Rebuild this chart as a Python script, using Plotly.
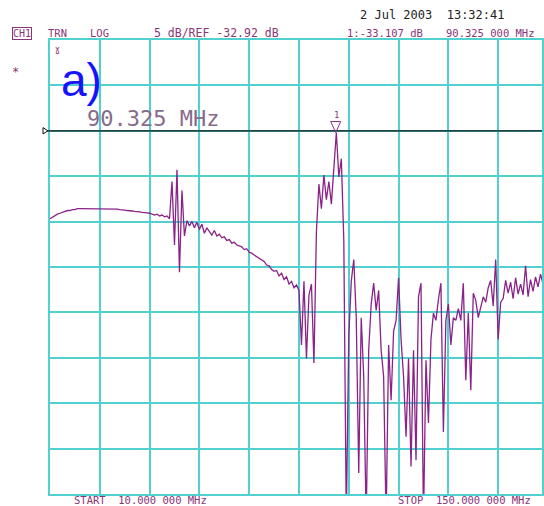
import numpy as np
import plotly.graph_objects as go

# Sweep: 10 MHz .. 150 MHz, 201 points
f_start, f_stop = 10.0, 150.0
freq_mhz = np.linspace(f_start, f_stop, 201)

# Transmission magnitude in dB
mag_db = [
    -42.6, -42.4, -42.3, -42.1, -42.0, -41.9, -41.8, -41.7, -41.7, -41.6,
    -41.6, -41.5, -41.5, -41.5, -41.5, -41.5, -41.5, -41.5, -41.5, -41.5,
    -41.5, -41.5, -41.5, -41.5, -41.5, -41.55, -41.55, -41.55, -41.6, -41.6,
    -41.65, -41.7, -41.7, -41.75, -41.8, -41.8, -41.85, -41.9, -41.9, -41.95,
    -42.0, -42.1, -42.2, -42.1, -42.3, -42.2, -42.4, -42.3, -42.6, -38.5,
    -45.5, -37.2, -48.5, -39.5, -44.5, -42.8, -43.4, -42.9, -43.6, -43.0,
    -43.8, -43.2, -44.2, -43.6, -44.0, -44.4, -43.9, -44.5, -44.3, -44.7,
    -44.6, -45.0, -44.9, -45.3, -45.2, -45.5, -45.6, -45.7, -46.0, -45.9,
    -46.3, -46.4, -46.6, -46.8, -46.9, -47.2, -47.3, -47.7, -47.8, -48.2,
    -48.4, -48.3, -48.9, -48.6, -49.3, -49.0, -49.8, -49.5, -50.2, -49.9,
    -50.5, -56.5, -49.5, -58.0, -51.0, -49.8, -58.5, -44.0, -38.8, -41.5,
    -37.8, -40.5, -38.5, -41.0, -36.5, -33.1, -38.0, -36.0, -45.0, -76.0,
    -55.5, -49.5, -47.1, -53.5, -70.6, -53.5, -60.0, -76.0, -57.1, -52.0,
    -49.7, -52.7, -50.5, -57.1, -60.0, -76.0, -56.5, -62.6, -55.0, -53.8,
    -49.1, -55.9, -60.0, -66.6, -58.0, -69.9, -57.1, -69.2, -51.2, -49.7,
    -76.0, -58.2, -65.1, -55.9, -53.0, -53.8, -51.5, -49.7, -66.1, -53.8,
    -52.0, -56.5, -53.5, -53.8, -52.5, -53.8, -49.7, -60.4, -53.0, -61.5,
    -50.8, -51.6, -53.5, -52.5, -51.2, -51.8, -50.2, -49.4, -52.2, -47.1,
    -55.9, -51.8, -51.4, -49.4, -50.8, -49.6, -51.4, -49.1, -50.9, -49.8,
    -51.0, -47.8, -51.2, -49.3, -50.6, -49.0, -50.1, -48.7, -49.8, -48.6,
    -49.2,
]

ref_db = -32.92
db_per_div = 5.0
n_div = 10
marker_freq = 90.325
marker_db = -33.107

y_top = ref_db + 2 * db_per_div
y_bot = y_top - n_div * db_per_div
mhz_per_div = (f_stop - f_start) / n_div

W, H = 544, 506
L, T, B = 50, 40, 12
plot_w = W - L
plot_h = H - T - B
x_vis_max = f_start + plot_w / 50.0 * mhz_per_div

def px(x):
    return (x - L) / plot_w

def py(y):
    return (H - B - y) / plot_h

grid_col = "#52d0d0"
text_col = "#8a3577"
trace_col = "#8a2288"

fig = go.Figure()
fig.add_trace(go.Scatter(x=freq_mhz, y=mag_db, mode="lines",
                         line=dict(color=trace_col, width=1.3),
                         hoverinfo="skip", showlegend=False))

# Reference line
fig.add_shape(type="line", xref="paper", yref="y", x0=px(43), x1=1.0,
              y0=ref_db, y1=ref_db, line=dict(color="#111111", width=1.2))
# small reference arrow at left
fig.add_shape(type="path", xref="paper", yref="y",
              path=f"M{px(43)},{ref_db+0.35} L{px(48)},{ref_db} L{px(43)},{ref_db-0.35} Z",
              line=dict(color="#111111", width=1), fillcolor="white")

# Marker 1 triangle (tip at the marker point)
fig.add_shape(type="path", xref="x", yref="y", xsizemode="pixel", ysizemode="pixel",
              xanchor=marker_freq, yanchor=marker_db,
              path="M0,0 L-5,11 L5,11 Z",
              line=dict(color=text_col, width=1), fillcolor="rgba(0,0,0,0)")

ann = []
def txt(s, x, y, size=10.5, color=text_col, family="DejaVu Sans Mono", xanchor="left", **kw):
    ann.append(dict(text=s, x=px(x), y=py(y), xref="paper", yref="paper",
                    showarrow=False, xanchor=xanchor, yanchor="middle",
                    font=dict(size=size, color=color, family=family), **kw))

txt("2 Jul 2003  13:32:41", 359, 15, size=12, color="#222222")
txt("CH1", 12, 33, size=10, bordercolor=text_col, borderwidth=1, borderpad=0)
txt("TRN", 46, 33)
txt("LOG", 88, 33)
txt("5 dB/REF -32.92 dB", 152, 33, size=11.5)
txt("1:-33.107 dB", 346, 33)
txt("90.325 000 MHz", 446, 33)
txt("START  10.000 000 MHz", 72, 500)
txt("STOP  150.000 000 MHz", 397, 500)
txt("*", 10, 72, size=12)
txt("ɣ", 53, 49, size=8)
txt("1", 338, 115, size=9, xanchor="center")
txt("a)", 59, 80, size=46, color="#1414ff", family="Liberation Sans")
txt("90.325 MHz", 85, 118, size=22, color="#876a8c", family="DejaVu Sans Mono")

fig.update_layout(
    width=W, height=H,
    margin=dict(l=L, r=0, t=T, b=B),
    paper_bgcolor="white", plot_bgcolor="white",
    annotations=ann,
    xaxis=dict(range=[f_start, x_vis_max], tick0=f_start, dtick=mhz_per_div,
               showticklabels=False, ticks="", showgrid=True, gridcolor=grid_col,
               gridwidth=1.5, zeroline=False, showline=True, linecolor=grid_col,
               linewidth=1.5, mirror=True),
    yaxis=dict(range=[y_bot, y_top], tick0=y_bot, dtick=db_per_div,
               showticklabels=False, ticks="", showgrid=True, gridcolor=grid_col,
               gridwidth=1.5, zeroline=False, showline=True, linecolor=grid_col,
               linewidth=1.5, mirror=True),
)

fig.write_html("out.html", config={"displayModeBar": False},
               post_script="document.body.style.margin='0';document.body.style.overflow='hidden';")
